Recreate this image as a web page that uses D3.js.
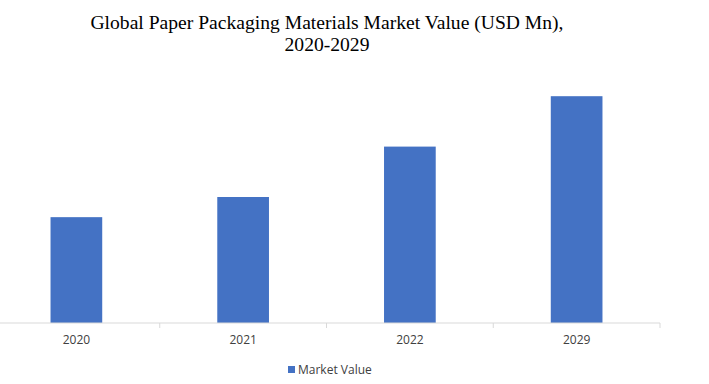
<!DOCTYPE html>
<html>
<head>
<meta charset="utf-8">
<script src="https://cdn.jsdelivr.net/npm/d3@7"></script>
<style>
  body { margin: 0; background: #fff; }
</style>
</head>
<body>
<script>
const years = ["2020", "2021", "2022", "2029"];
const marketValue = [2100, 2500, 3500, 4500];
const seriesName = "Market Value";

const width = 709;
const height = 384;
const barColor = "#4472c4";

const svg = d3.select("body")
    .append("svg")
    .attr("width", width)
    .attr("height", height);

// title, two lines
const title = svg.append("text")
    .attr("text-anchor", "middle")
    .attr("font-family", "'Liberation Serif', serif")
    .attr("font-size", 19.6)
    .attr("fill", "#000");
title.append("tspan").attr("x", 327).attr("y", 29)
    .text("Global Paper Packaging Materials Market Value (USD Mn),");
title.append("tspan").attr("x", 327).attr("y", 51)
    .text("2020-2029");

const x = d3.scaleBand()
    .domain(years)
    .range([-7, 660])
    .paddingInner(0.69)
    .paddingOuter(0.345);

const y = d3.scaleLinear()
    .domain([0, 5000])
    .range([323, 71]);

svg.append("g")
    .selectAll("rect")
    .data(years)
    .enter().append("rect")
    .attr("x", d => x(d))
    .attr("width", x.bandwidth())
    .attr("y", (d, i) => y(marketValue[i]))
    .attr("height", (d, i) => y(0) - y(marketValue[i]))
    .attr("fill", barColor);

// category axis
const axis = svg.append("g")
    .attr("transform", `translate(0,${y(0)})`)
    .call(d3.axisBottom(x).tickSize(0).tickPadding(12));
axis.select(".domain").remove();
axis.append("line")
    .attr("x1", 0).attr("x2", 660)
    .attr("stroke", "#d9d9d9");
// separators between categories
const gap = (x.step() - x.bandwidth()) / 2;
axis.selectAll(".sep")
    .data(years)
    .enter().append("line")
    .attr("x1", d => x(d) + x.bandwidth() + gap)
    .attr("x2", d => x(d) + x.bandwidth() + gap)
    .attr("y1", 0).attr("y2", 5)
    .attr("stroke", "#d9d9d9");
axis.selectAll("text")
    .attr("font-family", "'Open Sans', sans-serif")
    .attr("font-size", 12)
    .attr("fill", "#404040");

// legend
const legend = svg.append("g").attr("transform", "translate(288,370)");
legend.append("rect")
    .attr("x", 0).attr("y", -4)
    .attr("width", 7).attr("height", 7)
    .attr("fill", barColor);
legend.append("text")
    .attr("x", 10).attr("y", 4)
    .attr("font-family", "'Open Sans', sans-serif")
    .attr("font-size", 12)
    .attr("fill", "#404040")
    .text(seriesName);
</script>
</body>
</html>
